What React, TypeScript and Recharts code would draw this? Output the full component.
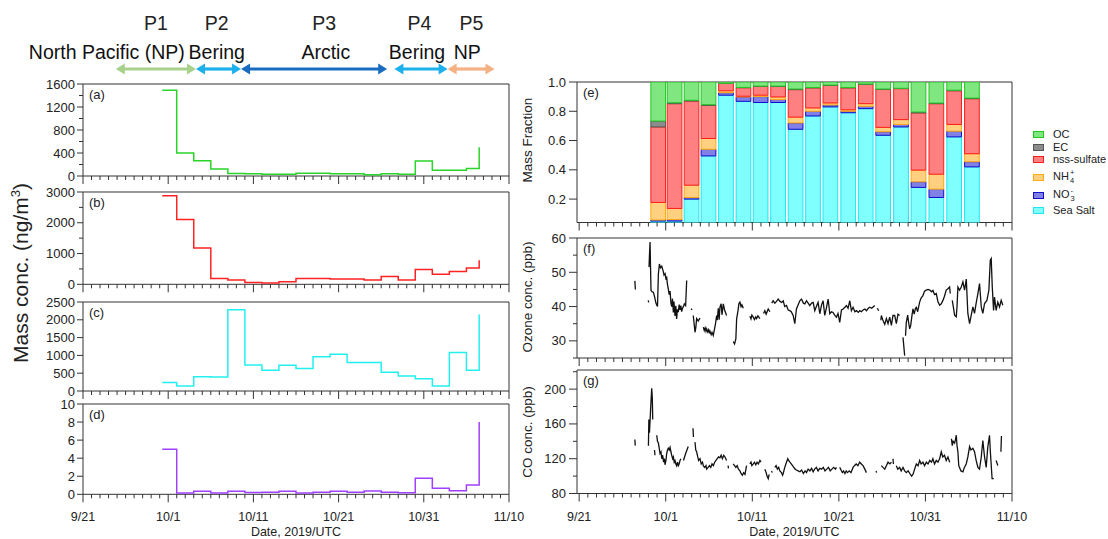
import React from 'react';
import { LineChart, Line, BarChart, Bar, XAxis, YAxis, ReferenceArea, ReferenceLine, ReferenceDot } from 'recharts';

// time axis = days since 9/21/2019
const dateLabels = ['9/21', '10/1', '10/11', '10/21', '10/31', '11/10'];
const dayTicks = Array.from({ length: 51 }, (_, i) => i);

// cruise phases (header)
const phaseNames = ['P1', 'P2', 'P3', 'P4', 'P5'];
const regionNames = ['North Pacific (NP)', 'Bering', 'Arctic', 'Bering', 'NP'];
const phaseStart = [3.85, 13.26, 18.55, 36.55, 42.8];
const phaseEnd = [13.26, 18.55, 35.7, 42.8, 48.3];
const phaseLabelDay = [8.55, 15.7, 28.3, 39.5, 45.6];
const regionLabelDay = [2.8, 15.7, 28.5, 39.2, 45.1];
const phaseColors = ['#a9d18e', '#1cb0ec', '#1a6cc0', '#1cb0ec', '#f4b183'];

// filter samples, left column: start day of each sample (last point closes the final step)
const sampleDays = [9.3, 11, 13, 15, 17, 19, 21, 23, 25, 27, 29, 31, 33, 35, 37, 39, 41, 43, 45, 46.5];
const massA = [1490, 400, 265, 120, 45, 40, 30, 30, 50, 50, 40, 40, 20, 40, 30, 260, 100, 100, 130, 500];
const massB = [2880, 2110, 1180, 190, 140, 60, 40, 80, 190, 190, 170, 170, 140, 250, 140, 480, 330, 420, 530, 780];
const massC = [240, 140, 400, 390, 2280, 730, 580, 720, 630, 960, 1030, 800, 800, 530, 420, 345, 140, 1080, 580, 2150];
const massD = [5.0, 0.15, 0.35, 0.15, 0.33, 0.2, 0.22, 0.33, 0.15, 0.22, 0.33, 0.22, 0.37, 0.22, 0.18, 1.77, 0.66, 0.4, 1.03, 8.0];

// mass fractions, panel (e): centre day of each sample
const barDays = [9.11, 11.0, 12.96, 14.92, 16.94, 18.96, 20.94, 22.96, 24.98, 26.99, 29.0, 31.06, 33.08, 35.1, 37.16, 39.18, 41.24, 43.3, 45.35];
const seaSalt = [0.05, 0.05, 0.2, 0.495, 0.91, 0.868, 0.86, 0.86, 0.677, 0.768, 0.83, 0.79, 0.818, 0.636, 0.693, 0.28, 0.211, 0.625, 0.42];
const nitrate = [0.007, 0.01, 0.01, 0.045, 0.017, 0.03, 0.04, 0.02, 0.043, 0.032, 0.013, 0.01, 0.016, 0.024, 0.017, 0.038, 0.057, 0.039, 0.035];
const ammonium = [0.12, 0.076, 0.085, 0.074, 0.013, 0.005, 0.01, 0.018, 0.04, 0.023, 0.014, 0.01, 0.018, 0.03, 0.033, 0.08, 0.102, 0.046, 0.055];
const sulfate = [0.516, 0.716, 0.575, 0.226, 0.05, 0.058, 0.06, 0.072, 0.188, 0.137, 0.12, 0.15, 0.132, 0.26, 0.212, 0.391, 0.482, 0.23, 0.376];
const ecFrac = [0.04, 0.006, 0.005, 0.005, 0.002, 0.002, 0.002, 0.002, 0.004, 0.002, 0.002, 0.002, 0.002, 0.002, 0.002, 0.006, 0.004, 0.004, 0.004];
const ocFrac = [0.267, 0.142, 0.125, 0.155, 0.008, 0.037, 0.028, 0.028, 0.048, 0.038, 0.021, 0.038, 0.014, 0.048, 0.043, 0.205, 0.144, 0.056, 0.11];

// ozone (ppb), [day, value]; null = data gap
const ozoneReadings: [number, number | null][] = [
  [6.43, 47.5], [6.5, 45.0], [6.55, null],
  [7.98, 41.8], [8.03, 41.2], [8.05, null],
  [8.07, 51.5], [8.13, 55.5], [8.19, 58.8], [8.24, 52], [8.3, 44.7], [8.45, 44.3], [8.57, 44.2], [8.68, 43.2], [8.77, 42.2], [8.87, 41.0],
  [8.96, 40.5], [9.05, 40.0], [9.15, 49.5], [9.27, 52.4], [9.4, 51.3], [9.54, 51.8], [9.7, 50.4], [9.8, 49.2], [9.92, 49.6], [10.02, 48.2],
  [10.11, 48.5], [10.2, 46.5], [10.3, 45.1], [10.4, 43.5], [10.5, 44.5], [10.6, 41.0], [10.69, 40.0], [10.78, 42.3], [10.88, 38.3],
  [10.95, 41.5], [11.07, 37.3], [11.17, 40.2], [11.26, 36.4], [11.35, 39.2], [11.45, 38.4], [11.55, 40.6], [11.65, 39.0], [11.75, 40.3],
  [11.84, 38.5], [11.95, 39.6], [12.03, 39.9], [12.15, 40.8], [12.3, 40.3], [12.42, 47.6], [12.45, null],
  [12.95, 39.4], [13.02, 39.0], [13.05, null],
  [13.18, 37.4], [13.28, 35.0], [13.38, 32.5], [13.47, 33.8], [13.57, 36.5], [13.75, 35.8], [13.96, 36.6], [14.0, null],
  [14.34, 34.0], [14.45, 33.0], [14.55, 33.8], [14.65, 32.8], [14.73, 33.5], [14.85, 32.6], [14.95, 33.2], [15.05, 32.2], [15.11, 32.8],
  [15.25, 31.8], [15.35, 32.5], [15.49, 31.6], [15.6, 33.0], [15.75, 35.0], [15.88, 37.4], [15.95, 36.0], [16.07, 39.5], [16.17, 36.2],
  [16.26, 39.8], [16.4, 40.8], [16.5, 37.6], [16.65, 40.8], [16.8, 39.0], [17.03, 37.4], [17.1, null],
  [17.8, 29.8], [17.95, 29.1], [18.1, 30.6], [18.19, 36.4], [18.35, 38.8], [18.45, 40.8], [18.57, 41.3], [18.7, 40.0], [18.8, 40.5], [18.96, 39.5], [19.0, null],
  [19.72, 37.2], [19.85, 36.4], [19.95, 37.5], [20.11, 36.9], [20.25, 36.2], [20.4, 37.0], [20.5, 36.5], [20.65, 37.3], [20.88, 36.5], [20.95, null],
  [21.3, 38.0], [21.45, 38.8], [21.6, 37.8], [21.84, 39.3], [22.03, 38.5], [22.1, null],
  [22.25, 41.0], [22.41, 41.7], [22.6, 41.0], [22.8, 41.5], [22.99, 42.2], [23.2, 41.5], [23.4, 41.2], [23.57, 41.7], [23.75, 40.0],
  [23.95, 40.3], [24.15, 39.0], [24.34, 38.8], [24.5, 38.5], [24.72, 37.4], [24.91, 35.0], [25.1, 39.3], [25.3, 40.5], [25.49, 41.7],
  [25.68, 42.2], [25.9, 41.0], [26.07, 40.8], [26.26, 41.7], [26.45, 41.0], [26.64, 40.3], [26.85, 41.0], [27.03, 41.2], [27.22, 38.8],
  [27.4, 40.0], [27.6, 41.2], [27.8, 37.9], [28.0, 40.5], [28.18, 41.7], [28.37, 37.4], [28.55, 39.5], [28.76, 42.2], [28.95, 37.9],
  [29.15, 38.5], [29.33, 38.3], [29.52, 37.5], [29.72, 36.9], [29.9, 38.0], [30.1, 35.4], [30.3, 39.0], [30.49, 39.3], [30.7, 39.8],
  [30.88, 40.3], [31.06, 39.5], [31.26, 41.7], [31.45, 38.8], [31.64, 39.8], [31.85, 38.5], [32.03, 38.8], [32.25, 38.3], [32.41, 38.8],
  [32.6, 38.5], [32.79, 39.0], [33.0, 39.3], [33.18, 38.8], [33.4, 39.5], [33.56, 39.8], [33.8, 39.5], [34.14, 40.3], [34.2, null],
  [34.45, 39.5], [34.6, 38.8], [34.65, null],
  [34.85, 36.0], [34.91, 37.4], [35.1, 35.9], [35.3, 34.8], [35.49, 36.5], [35.68, 35.0], [35.87, 36.9], [36.07, 34.5], [36.25, 37.4],
  [36.45, 37.4], [36.64, 35.0], [36.83, 37.8], [37.02, 37.4], [37.1, null],
  [37.41, 31.0], [37.6, 25.7], [37.65, null],
  [37.7, 31.5], [37.79, 35.4], [37.95, 37.5], [38.05, 35.5], [38.18, 33.5], [38.3, 34.5], [38.45, 37.5], [38.56, 39.3], [38.7, 37.8],
  [38.85, 39.5], [38.95, 39.8], [39.1, 38.5], [39.33, 41.3], [39.5, 42.5], [39.71, 43.2], [39.9, 44.5], [40.1, 44.8], [40.3, 45.0],
  [40.5, 44.8], [40.7, 44.3], [40.87, 44.7], [41.05, 43.5], [41.25, 43.8], [41.44, 41.5], [41.64, 40.4], [41.83, 40.8], [42.02, 41.8],
  [42.2, 43.0], [42.4, 44.8], [42.6, 45.2], [42.79, 45.7], [42.87, 43.8], [42.9, null],
  [43.1, 41.8], [43.25, 39.5], [43.37, 37.5], [43.56, 37.0], [43.65, 40.0], [43.75, 45.7], [43.94, 44.8], [44.14, 45.7], [44.33, 47.2],
  [44.52, 44.8], [44.72, 48.0], [44.9, 38.0], [45.1, 35.0], [45.29, 37.5], [45.48, 39.9], [45.67, 38.0], [45.86, 41.0], [46.06, 43.8],
  [46.25, 46.7], [46.45, 39.9], [46.63, 38.0], [46.83, 40.9], [47.1, 41.8], [47.33, 44.8], [47.49, 53.5], [47.6, 54.0], [47.72, 45.7],
  [47.87, 38.9], [47.98, 42.8], [48.17, 38.9], [48.36, 41.3], [48.56, 39.9], [48.75, 41.8], [48.94, 40.4],
];

// CO (ppb), [day, value]; null = data gap
const coReadings: [number, number | null][] = [
  [6.43, 142], [6.48, 135], [6.52, null],
  [8.0, 135], [8.05, 165], [8.12, 150], [8.25, 176], [8.38, 201], [8.45, 190], [8.5, 165], [8.55, null],
  [8.7, 130], [8.76, 124], [8.8, null],
  [8.96, 147], [9.05, 140], [9.15, 138], [9.25, 132], [9.34, 126], [9.45, 128], [9.54, 120], [9.65, 124], [9.75, 116], [9.85, 120],
  [9.92, 113], [10.02, 118], [10.11, 126], [10.2, 130], [10.3, 132], [10.4, 130], [10.5, 133], [10.6, 128], [10.69, 124], [10.8, 120],
  [10.88, 122], [10.98, 116], [11.07, 118], [11.17, 114], [11.26, 112], [11.36, 116], [11.45, 112], [11.55, 114], [11.65, 118], [11.75, 120], [11.8, null],
  [12.05, 118], [12.3, 126], [12.6, 134], [12.65, null],
  [13.15, 155], [13.2, 145], [13.25, null],
  [13.38, 139], [13.47, 130], [13.57, 128], [13.7, 122], [13.8, 118], [13.96, 120], [14.1, 114], [14.25, 116], [14.34, 112], [14.5, 110],
  [14.65, 112], [14.73, 108], [14.9, 110], [15.05, 112], [15.2, 110], [15.35, 114], [15.5, 112], [15.65, 116], [15.8, 118], [15.95, 120],
  [16.1, 122], [16.26, 121], [16.4, 124], [16.55, 120], [16.7, 124], [16.85, 122], [17.03, 118], [17.1, null],
  [17.2, 112], [17.25, 109], [17.3, null],
  [17.8, 114], [17.95, 112], [18.1, 110], [18.25, 112], [18.4, 108], [18.57, 106], [18.7, 103], [18.85, 101], [19.0, 104], [19.15, 102], [19.34, 112], [19.4, null],
  [19.72, 114], [19.85, 116], [19.95, 112], [20.11, 114], [20.25, 116], [20.4, 113], [20.55, 116], [20.7, 114], [20.88, 118], [21.0, 116], [21.1, null],
  [21.45, 108], [21.6, 104], [21.7, 100], [21.84, 97], [21.95, 102], [22.05, null],
  [22.22, 106], [22.3, 104], [22.35, null],
  [22.6, 110], [22.75, 112], [22.9, 108], [23.05, 110], [23.18, 106], [23.37, 104], [23.5, 101], [23.57, 103], [23.75, 110], [23.95, 116],
  [24.1, 120], [24.2, 118], [24.34, 116], [24.5, 114], [24.65, 112], [24.8, 110], [24.95, 108], [25.1, 107], [25.3, 106], [25.5, 105],
  [25.7, 107], [25.9, 103], [26.1, 106], [26.26, 104], [26.45, 108], [26.65, 106], [26.85, 109], [27.03, 105], [27.2, 108], [27.4, 110],
  [27.6, 106], [27.8, 109], [28.0, 108], [28.2, 110], [28.4, 106], [28.6, 108], [28.8, 110], [29.0, 106], [29.2, 108], [29.4, 110],
  [29.6, 108], [29.72, 110], [29.8, null],
  [30.1, 110], [30.25, 107], [30.4, 104], [30.55, 106], [30.7, 103], [30.85, 106], [31.0, 104], [31.2, 106], [31.4, 104], [31.64, 110],
  [31.8, 112], [32.0, 114], [32.2, 112], [32.4, 116], [32.6, 114], [32.79, 112], [33.0, 108], [33.18, 104], [33.25, null],
  [34.3, 106], [34.36, 104], [34.4, null],
  [34.91, 112], [35.1, 110], [35.3, 108], [35.49, 112], [35.68, 116], [35.9, 114], [36.07, 116], [36.1, null],
  [36.25, 120], [36.3, 114], [36.35, null],
  [36.64, 112], [36.8, 108], [37.02, 110], [37.2, 106], [37.41, 110], [37.6, 106], [37.8, 104], [38.0, 106], [38.2, 103], [38.4, 100],
  [38.56, 102], [38.75, 108], [38.95, 114], [39.15, 112], [39.33, 118], [39.5, 114], [39.71, 116], [39.9, 112], [40.1, 116], [40.3, 114],
  [40.5, 118], [40.7, 116], [40.86, 120], [41.05, 114], [41.25, 118], [41.44, 116], [41.64, 120], [41.83, 128], [42.0, 122], [42.2, 124],
  [42.4, 118], [42.6, 122], [42.8, 116], [42.85, null],
  [43.0, 143], [43.1, 135], [43.2, 140], [43.37, 138], [43.47, 142], [43.56, 147], [43.65, 135], [43.75, 128], [43.85, 112], [43.94, 110],
  [44.1, 106], [44.33, 105], [44.5, 110], [44.71, 114], [44.9, 122], [45.1, 134], [45.25, 130], [45.48, 132], [45.67, 128], [45.86, 118],
  [46.06, 110], [46.25, 108], [46.45, 122], [46.63, 141], [46.83, 122], [47.02, 110], [47.2, 133], [47.4, 147], [47.5, 128], [47.7, 97],
  [47.9, 97], [47.95, null],
  [48.17, 118], [48.36, 112], [48.4, null],
  [48.72, 128], [48.78, 146],
];

const FONT = 'Arial, "Liberation Sans", Helvetica, sans-serif';
const INK = '#333';
const TXT = '#222';
const MT = 10; // room above each plot for the top tick label

const xTick = (showLabels: boolean) => (p: any) => {
  const v = Math.round(p.payload.value);
  const major = v % 10 === 0;
  return (
    <g>
      <line x1={p.x} x2={p.x} y1={p.y} y2={p.y + (major ? 8 : 4)} stroke={INK} strokeWidth={1} />
      {showLabels && major ? (
        <text x={p.x} y={p.y + 27} textAnchor="middle" fontSize={12.5} fill={TXT}>
          {dateLabels[v / 10]}
        </text>
      ) : null}
    </g>
  );
};

const yTick = (isMajor: (v: number) => boolean, fmt: (v: number) => string, len: number, gap: number) => (p: any) => {
  const v = p.payload.value;
  const major = isMajor(v);
  return (
    <g>
      <line x1={p.x - (major ? len : 4)} x2={p.x} y1={p.y} y2={p.y} stroke={INK} strokeWidth={1} />
      {major ? (
        <text x={p.x - gap} y={p.y} dy="0.35em" textAnchor="end" fontSize={13} fill={TXT}>
          {fmt(v)}
        </text>
      ) : null}
    </g>
  );
};

const tagLabel = (tag: string) => ({ value: tag, position: 'insideTopLeft' as const, offset: 6, fontSize: 13, fill: TXT });
const dateTitle = { value: 'Date, 2019/UTC', position: 'insideBottom' as const, offset: 5, fontSize: 12.5, fill: TXT };
const lastAxisH = 47;

type StepProps = {
  top: number; plotH: number; values: number[]; color: string; domain: [number, number];
  ticks: number[]; major: (v: number) => boolean; tag: string; last?: boolean;
};

function StepPanel({ top, plotH, values, color, domain, ticks, major, tag, last }: StepProps) {
  const xh = last ? lastAxisH : 12;
  const data = sampleDays.map((d, i) => ({ d, v: values[i] }));
  return (
    <div style={{ position: 'absolute', left: 0, top: top - MT }}>
      <LineChart width={540} height={MT + plotH + xh} data={data} margin={{ top: MT, right: 31, bottom: 0, left: 43 }}>
        <XAxis dataKey="d" type="number" domain={[0, 50]} allowDataOverflow ticks={dayTicks} interval={0}
          tickSize={0} tickMargin={0} tickLine={false} axisLine={false} height={xh} tick={xTick(!!last)}
          label={last ? dateTitle : undefined} />
        <YAxis type="number" domain={domain} allowDataOverflow ticks={ticks} interval={0} width={40}
          tickSize={0} tickMargin={0} tickLine={false} axisLine={false} tick={yTick(major, (v) => String(v), 6, 8)} />
        <ReferenceArea x1={0} x2={50} y1={domain[0]} y2={domain[1]} fill="none" stroke={INK} strokeWidth={1}
          ifOverflow="visible" label={tagLabel(tag)} />
        <Line type="stepAfter" dataKey="v" stroke={color} strokeWidth={1.5} dot={false} isAnimationActive={false} />
      </LineChart>
    </div>
  );
}

const fracLayers = [
  { key: 'seaSalt', values: seaSalt, fill: '#80ffff', stroke: '#22e4f2' },
  { key: 'nitrate', values: nitrate, fill: '#8080e6', stroke: '#1010cc' },
  { key: 'ammonium', values: ammonium, fill: '#ffd080', stroke: '#ffaa10' },
  { key: 'sulfate', values: sulfate, fill: '#ff8080', stroke: '#ff1c1c' },
  { key: 'ec', values: ecFrac, fill: '#8c8c8c', stroke: '#555555' },
  { key: 'oc', values: ocFrac, fill: '#80e680', stroke: '#22c822' },
];

function FractionPanel() {
  const plotH = 140.5, xh = 12, top = 82;
  const data = barDays.map((d, i) => {
    const row: any = { d };
    fracLayers.forEach((l) => { row[l.key] = l.values[i]; });
    return row;
  });
  return (
    <div style={{ position: 'absolute', left: 520, top: top - MT }}>
      <BarChart width={588} height={MT + plotH + xh} data={data} margin={{ top: MT, right: 96, bottom: 0, left: 0 }}
        barGap={0} barCategoryGap={0}>
        <XAxis xAxisId="bars" dataKey="d" type="number" domain={[-0.25, 50]} allowDataOverflow hide height={0} />
        <XAxis xAxisId="days" dataKey="d" type="number" domain={[-0.25, 50]} allowDataOverflow ticks={dayTicks} interval={0}
          tickSize={0} tickMargin={0} tickLine={false} axisLine={false} height={xh} tick={xTick(false)} />
        <YAxis type="number" domain={[0.04, 1]} allowDataOverflow ticks={[0.2, 0.4, 0.6, 0.8, 1.0]} interval={0} width={57}
          tickSize={0} tickMargin={0} tickLine={false} axisLine={false} tick={yTick(() => true, (v) => v.toFixed(1), 8, 11)} />
        {fracLayers.map((l) => (
          <Bar key={l.key} xAxisId="bars" dataKey={l.key} stackId="f" fill={l.fill} stroke={l.stroke} strokeWidth={1}
            barSize={18} isAnimationActive={false} />
        ))}
        <ReferenceArea xAxisId="bars" x1={-0.25} x2={50} y1={0.04} y2={1} fill="none" stroke={INK} strokeWidth={1}
          ifOverflow="visible" label={tagLabel('(e)')} />
      </BarChart>
    </div>
  );
}

type TraceProps = {
  top: number; plotH: number; readings: [number, number | null][]; domain: [number, number];
  ticks: number[]; major: (v: number) => boolean; tag: string; last?: boolean;
};

function TracePanel({ top, plotH, readings, domain, ticks, major, tag, last }: TraceProps) {
  const xh = last ? lastAxisH : 12;
  const data = readings.map(([d, v]) => ({ d, v }));
  return (
    <div style={{ position: 'absolute', left: 520, top: top - MT }}>
      <LineChart width={588} height={MT + plotH + xh} data={data} margin={{ top: MT, right: 96, bottom: 0, left: 0 }}>
        <XAxis dataKey="d" type="number" domain={[-0.25, 50]} allowDataOverflow ticks={dayTicks} interval={0}
          tickSize={0} tickMargin={0} tickLine={false} axisLine={false} height={xh} tick={xTick(!!last)}
          label={last ? dateTitle : undefined} />
        <YAxis type="number" domain={domain} allowDataOverflow ticks={ticks} interval={0} width={57}
          tickSize={0} tickMargin={0} tickLine={false} axisLine={false} tick={yTick(major, (v) => String(v), 8, 11)} />
        <ReferenceArea x1={-0.25} x2={50} y1={domain[0]} y2={domain[1]} fill="none" stroke={INK} strokeWidth={1}
          ifOverflow="visible" label={tagLabel(tag)} />
        <Line type="linear" dataKey="v" stroke="#111" strokeWidth={1.3} dot={false} connectNulls={false} isAnimationActive={false} />
      </LineChart>
    </div>
  );
}

const arrowShape = (color: string) => (p: any) => {
  const { x1, y1, x2 } = p;
  const h = 9, w = 5.5;
  return (
    <g>
      <line x1={x1 + h - 1} y1={y1} x2={x2 - h + 1} y2={y1} stroke={color} strokeWidth={3.2} />
      <polygon points={`${x1},${y1} ${x1 + h},${y1 - w} ${x1 + h},${y1 + w}`} fill={color} />
      <polygon points={`${x2},${y1} ${x2 - h},${y1 - w} ${x2 - h},${y1 + w}`} fill={color} />
    </g>
  );
};

function Header() {
  const rowPhase = 23, rowRegion = 52, rowArrow = 69;
  return (
    <div style={{ position: 'absolute', left: 0, top: 0 }}>
      <LineChart width={540} height={80} data={[]} margin={{ top: 0, right: 31, bottom: 0, left: 83 }}>
        <XAxis type="number" dataKey="d" domain={[0, 50]} allowDataOverflow hide height={0} />
        <YAxis type="number" domain={[0, 80]} allowDataOverflow reversed hide width={0} />
        {phaseNames.map((n, i) => (
          <ReferenceLine key={`a${n}`} segment={[{ x: phaseStart[i], y: rowArrow }, { x: phaseEnd[i], y: rowArrow }]}
            stroke={phaseColors[i]} shape={arrowShape(phaseColors[i])} ifOverflow="visible" />
        ))}
        {phaseNames.map((n, i) => (
          <ReferenceDot key={`p${n}`} x={phaseLabelDay[i]} y={rowPhase} r={0} stroke="none" fill="none" ifOverflow="visible"
            label={{ value: n, position: 'center', fontSize: 19.5, fill: TXT }} />
        ))}
        {regionNames.map((n, i) => (
          <ReferenceDot key={`r${i}`} x={regionLabelDay[i]} y={rowRegion} r={0} stroke="none" fill="none" ifOverflow="visible"
            label={{ value: n, position: 'center', fontSize: 19.5, fill: '#111' }} />
        ))}
      </LineChart>
    </div>
  );
}

const rotTitle = (cx: number, cy: number, size: number): React.CSSProperties => ({
  position: 'absolute', left: cx, top: cy, transform: 'translate(-50%, -50%) rotate(-90deg)',
  whiteSpace: 'nowrap', fontSize: size, color: TXT, lineHeight: 1,
});

const legendRows = [
  { name: 'OC', fill: '#80e680', stroke: '#22c822', y: 134 },
  { name: 'EC', fill: '#8c8c8c', stroke: '#555555', y: 147 },
  { name: 'nss-sulfate', fill: '#ff8080', stroke: '#ff1c1c', y: 159 },
  { name: 'NH4+', fill: '#ffd080', stroke: '#ffaa10', y: 177 },
  { name: 'NO3-', fill: '#8080e6', stroke: '#1010cc', y: 195 },
  { name: 'Sea Salt', fill: '#80ffff', stroke: '#22e4f2', y: 210 },
];

function legendText(name: string) {
  const stack = (top: string, bottom: string) => (
    <span style={{ display: 'inline-flex', flexDirection: 'column', fontSize: 7.5, lineHeight: '8px', verticalAlign: 'middle', marginLeft: 1 }}>
      <span>{top}</span>
      <span>{bottom}</span>
    </span>
  );
  if (name === 'NH4+') return <span>NH{stack('+', '4')}</span>;
  if (name === 'NO3-') return <span>NO{stack('-', '3')}</span>;
  return <span>{name}</span>;
}

export default function App() {
  return (
    <div style={{ position: 'absolute', left: 0, top: 0, width: 1108, height: 539, background: '#fff', fontFamily: FONT, overflow: 'hidden' }}>
      <Header />
      <StepPanel top={84} plotH={92} values={massA} color="#2ad42a" domain={[0, 1600]}
        ticks={[0, 200, 400, 600, 800, 1000, 1200, 1400, 1600]} major={(v) => v % 400 === 0} tag="(a)" />
      <StepPanel top={192} plotH={92.3} values={massB} color="#ff2222" domain={[0, 3000]}
        ticks={[0, 500, 1000, 1500, 2000, 2500, 3000]} major={(v) => v % 1000 === 0} tag="(b)" />
      <StepPanel top={302} plotH={89} values={massC} color="#22f0f0" domain={[0, 2500]}
        ticks={[0, 500, 1000, 1500, 2000, 2500]} major={() => true} tag="(c)" />
      <StepPanel top={404} plotH={90.3} values={massD} color="#a040ff" domain={[0, 10]}
        ticks={[0, 2, 4, 6, 8, 10]} major={() => true} tag="(d)" last />

      <FractionPanel />
      <TracePanel top={237.7} plotH={120} readings={ozoneReadings} domain={[25, 60]}
        ticks={[25, 30, 35, 40, 45, 50, 55, 60]} major={(v) => v % 10 === 0} tag="(f)" />
      <TracePanel top={370} plotH={123.5} readings={coReadings} domain={[80, 222]}
        ticks={[80, 100, 120, 140, 160, 180, 200, 220]} major={(v) => v % 40 === 0} tag="(g)" last />

      <div style={rotTitle(20, 273, 21)}>
        Mass conc. (ng/m<sup style={{ fontSize: 13 }}>3</sup>)
      </div>
      <div style={rotTitle(528, 140, 13.5)}>Mass Fraction</div>
      <div style={rotTitle(528, 297, 13.5)}>Ozone conc. (ppb)</div>
      <div style={rotTitle(528, 432, 13.5)}>CO conc. (ppb)</div>

      {legendRows.map((r) => (
        <div key={r.name} style={{ position: 'absolute', left: 1033, top: r.y, transform: 'translateY(-50%)', display: 'flex', alignItems: 'center', fontSize: 11, color: TXT, whiteSpace: 'nowrap' }}>
          <span style={{ display: 'inline-block', width: 9, height: 5, background: r.fill, border: `1.5px solid ${r.stroke}`, marginRight: 9 }} />
          {legendText(r.name)}
        </div>
      ))}
    </div>
  );
}
